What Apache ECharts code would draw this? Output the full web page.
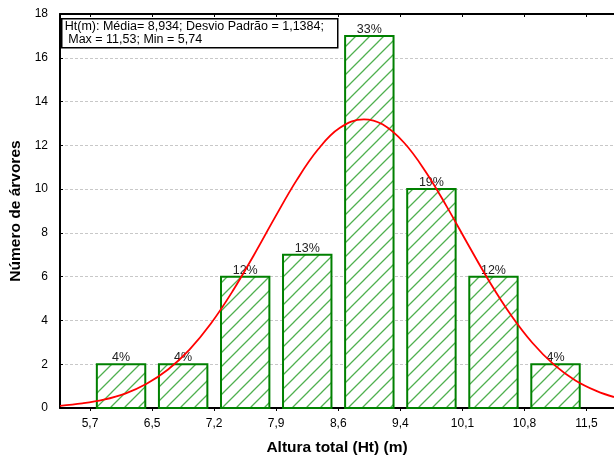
<!DOCTYPE html>
<html><head><meta charset="utf-8">
<script src="https://cdn.jsdelivr.net/npm/echarts@6/dist/echarts.min.js"></script>
<style>html,body{margin:0;padding:0;background:#fff}#c{width:614px;height:457px}</style>
</head><body><div id="c"></div>
<script>
// Bin edges (m) and counts
const binEdges = [5.74, 6.464, 7.188, 7.911, 8.635, 9.359, 10.083, 10.806, 11.53];
const counts = [2, 2, 6, 7, 17, 10, 6, 2];
const percentLabels = ['4%', '4%', '12%', '13%', '33%', '19%', '12%', '4%'];
const yTicks = [0, 2, 4, 6, 8, 10, 12, 14, 16, 18];
// Fitted normal curve points
const curveX = [5.39, 5.65, 5.9, 6.15, 6.4, 6.65, 6.9, 7.15, 7.4, 7.65, 7.9, 8.15, 8.4, 8.65, 8.934, 9.15, 9.4, 9.65, 9.9, 10.15, 10.4, 10.65, 10.9, 11.15, 11.4, 11.65, 11.85];
const curveY = [0.10, 0.21, 0.38, 0.66, 1.11, 1.76, 2.67, 3.86, 5.32, 6.98, 8.73, 10.41, 11.82, 12.79, 13.19, 12.96, 12.13, 10.82, 9.20, 7.46, 5.76, 4.24, 2.97, 1.98, 1.26, 0.77, 0.50];
const annotation = 'Ht(m): Média= 8,934; Desvio Padrão = 1,1384;\n Max = 11,53; Min = 5,74';

const barData = counts.map((c, i) => [binEdges[i], binEdges[i + 1], c, percentLabels[i]]);
const curveData = curveX.map((x, i) => [x, curveY[i]]);

// hatch pattern
const pc = document.createElement('canvas');
const S = 14;
pc.width = S; pc.height = S;
const g = pc.getContext('2d');
g.fillStyle = '#ffffff'; g.fillRect(0, 0, S, S);
g.strokeStyle = '#4fb04f'; g.lineWidth = 1.3;
g.beginPath();
g.moveTo(-2, S + 2); g.lineTo(S + 2, -2);
g.moveTo(-2, 2); g.lineTo(2, -2);
g.moveTo(S - 2, S + 2); g.lineTo(S + 2, S - 2);
g.stroke();

const chart = echarts.init(document.getElementById('c'), null, {renderer: 'canvas'});
const fmt = v => (Math.round(v * 10) / 10).toFixed(1).replace('.', ',');
const font = 'Liberation Sans, Arial, sans-serif';

chart.setOption({
  animation: false,
  backgroundColor: '#fff',
  grid: {left: 60, right: 0, top: 14, bottom: 49, containLabel: false, outerBoundsMode: 'none'},
  xAxis: [{
    type: 'value', min: 5.39, max: 11.85,
    name: 'Altura total (Ht) (m)', nameLocation: 'middle', nameGap: 32,
    nameTextStyle: {fontFamily: font, fontSize: 15.5, fontWeight: 'bold', color: '#000'},
    axisLine: {show: true, lineStyle: {color: '#000', width: 2}},
    axisTick: {show: true, customValues: binEdges, length: 3, lineStyle: {color: '#000'}},
    axisLabel: {customValues: binEdges, formatter: v => fmt(v), color: '#000', fontFamily: font, fontSize: 12, margin: 10},
    splitLine: {show: false}
  }, {
    type: 'value', position: 'top', min: 5.39, max: 11.85,
    axisLine: {show: true, onZero: false, lineStyle: {color: '#000', width: 2}},
    axisTick: {show: true, inside: true, customValues: binEdges, length: 3, lineStyle: {color: '#000'}},
    axisLabel: {show: false},
    splitLine: {show: false}
  }],
  yAxis: {
    type: 'value', min: 0, max: 18, interval: 2,
    name: 'Número de árvores', nameLocation: 'middle', nameGap: 33,
    nameTextStyle: {fontFamily: font, fontSize: 15.5, fontWeight: 'bold', color: '#000'},
    axisLine: {show: true, lineStyle: {color: '#000', width: 2}},
    axisTick: {show: true, inside: true, length: 3, lineStyle: {color: '#000'}},
    axisLabel: {color: '#000', fontFamily: font, fontSize: 12, margin: 12},
    splitLine: {show: true, lineStyle: {color: '#c8c8c8', type: [3, 2], width: 1}}
  },
  series: [{
    type: 'custom',
    xAxisIndex: 0,
    data: barData,
    encode: {x: [0, 1], y: 2},
    renderItem: function (params, api) {
      const p0 = api.coord([api.value(0), api.value(2)]);
      const p1 = api.coord([api.value(1), 0]);
      const w = p1[0] - p0[0];
      const inset = w * 0.11;
      const x = p0[0] + inset, y = p0[1];
      const bw = w - 2 * inset, bh = p1[1] - p0[1];
      return {
        type: 'group',
        children: [{
          type: 'rect',
          shape: {x: x, y: y, width: bw, height: bh},
          style: {fill: {image: pc, repeat: 'repeat'}, stroke: '#008000', lineWidth: 2}
        }, {
          type: 'text',
          z2: 100,
          style: {
            text: percentLabels[params.dataIndex],
            x: x + bw / 2, y: y,
            align: 'center', verticalAlign: 'bottom',
            fill: '#222', font: '12.5px ' + font
          }
        }]
      };
    },
    z: 2
  }, {
    type: 'line',
    xAxisIndex: 0,
    data: curveData,
    smooth: 0.4,
    showSymbol: false,
    lineStyle: {color: '#ff0000', width: 1.8},
    z: 3
  }],
  graphic: [{
    type: 'group', left: 61, top: 18, z: 100,
    children: [{
      type: 'rect', shape: {x: 0, y: 0, width: 276, height: 29},
      style: {fill: '#fff', stroke: '#000', lineWidth: 1.5}
    }, {
      type: 'text', left: 3, top: 1,
      style: {text: annotation, font: '12.5px ' + font, fill: '#000', lineHeight: 13}
    }]
  }]
});
</script></body></html>
